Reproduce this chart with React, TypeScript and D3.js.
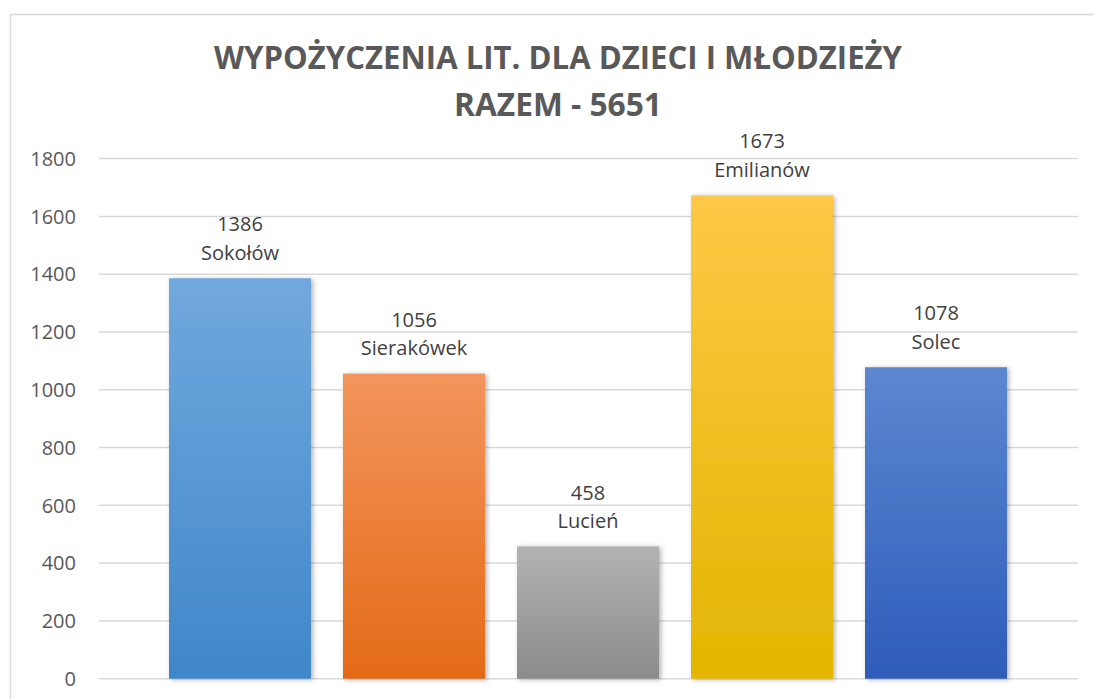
import React from "react";
import * as d3 from "d3";

const categories = ["Sokołów", "Sierakówek", "Lucień", "Emilianów", "Solec"];
const values = [1386, 1056, 458, 1673, 1078];
const yTicks = [0, 200, 400, 600, 800, 1000, 1200, 1400, 1600, 1800];
const titleLines = ["WYPOŻYCZENIA LIT. DLA DZIECI I MŁODZIEŻY", "RAZEM - 5651"];
const gradients = [
  ["#71a8de", "#3f87c9"],
  ["#f3955c", "#e46a17"],
  ["#b3b3b3", "#8b8b8b"],
  ["#ffc846", "#e3b500"],
  ["#5d87d1", "#2d5cba"],
];

const W = 1094;
const H = 699;

export default function App() {
  const y = d3.scaleLinear().domain([0, 1800]).range([678.7, 158.6]);
  const x = d3
    .scaleBand<string>()
    .domain(categories)
    .range([153, 1023])
    .paddingInner(32 / 174)
    .paddingOuter(16 / 174);
  const gridX0 = 99;
  const gridX1 = 1078;
  const font = "'Open Sans', sans-serif";

  return (
    <svg
      width={W}
      height={H}
      style={{ position: "absolute", left: 0, top: 0, display: "block", background: "#fff" }}
    >
      <defs>
        {gradients.map((g, i) => (
          <linearGradient key={i} id={`g${i}`} x1="0" y1="0" x2="0" y2="1">
            <stop offset="0%" stopColor={g[0]} />
            <stop offset="100%" stopColor={g[1]} />
          </linearGradient>
        ))}
        <filter id="shadow" x="-20%" y="-10%" width="140%" height="120%">
          <feDropShadow dx="2" dy="1" stdDeviation="2.5" floodColor="#000" floodOpacity="0.3" />
        </filter>
      </defs>
      <rect x={10.5} y={14.5} width={W + 20} height={H + 20} fill="#fff" stroke="#d9d9d9" strokeWidth={1.5} />
      {titleLines.map((t, i) => (
        <text
          key={i}
          x={558}
          y={[68.5, 115.5][i]}
          textAnchor="middle"
          fontFamily={font}
          fontWeight={700}
          fontSize={32}
          fill="#595959"
          textLength={[688, 208][i]}
          lengthAdjust="spacingAndGlyphs"
        >
          {t}
        </text>
      ))}
      {yTicks.map((t) => (
        <g key={t}>
          <line x1={gridX0} x2={gridX1} y1={y(t)} y2={y(t)} stroke="#d9d9d9" strokeWidth={1.5} />
          <text
            x={76}
            y={y(t)}
            dy="0.36em"
            textAnchor="end"
            fontFamily={font}
            fontSize={20}
            fill="#595959"
          >
            {t}
          </text>
        </g>
      ))}
      {categories.map((c, i) => {
        const bx = x(c) as number;
        const top = y(values[i]);
        return (
          <g key={c}>
            <rect
              x={bx}
              y={top}
              width={x.bandwidth()}
              height={y(0) - top}
              fill={`url(#g${i})`}
              filter="url(#shadow)"
            />
            <text
              x={bx + x.bandwidth() / 2}
              y={top - 54}
              dy="0.36em"
              textAnchor="middle"
              fontFamily={font}
              fontSize={20}
              fill="#404040"
            >
              {values[i]}
            </text>
            <text
              x={bx + x.bandwidth() / 2}
              y={top - 25.5}
              dy="0.36em"
              textAnchor="middle"
              fontFamily={font}
              fontSize={20}
              fill="#404040"
            >
              {c}
            </text>
          </g>
        );
      })}
    </svg>
  );
}
